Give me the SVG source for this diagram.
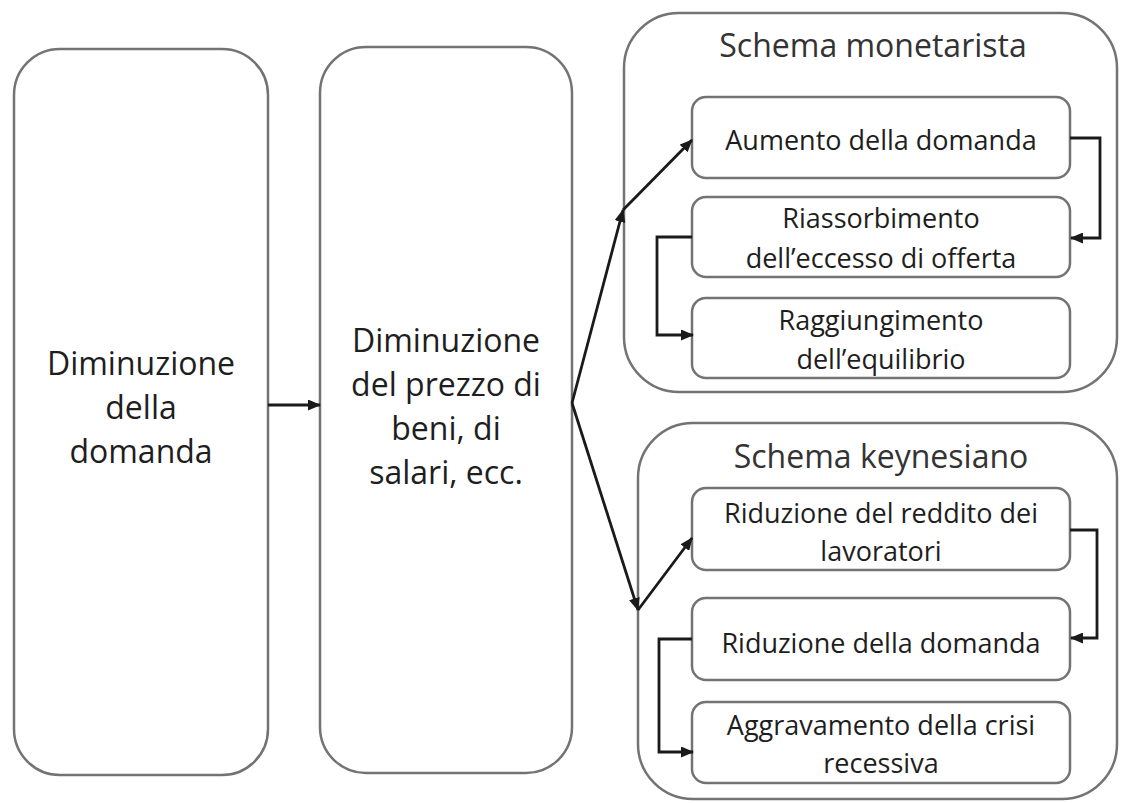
<svg xmlns="http://www.w3.org/2000/svg" width="1121" height="803" viewBox="0 0 1121 803">
<defs>
<marker id="ah" markerWidth="13" markerHeight="11" refX="12" refY="5.5" orient="auto" markerUnits="userSpaceOnUse">
<path d="M0,0 L13,5.5 L0,11 z" fill="#1a1a1a"/>
</marker>
</defs>
<style>
.box{fill:#fff;stroke:#737373;stroke-width:2.5}
.big{font-family:"Open Sans","Liberation Sans",sans-serif;font-size:32px;fill:#1e1e1e;text-anchor:middle;font-weight:500}
.title{font-family:"Open Sans","Liberation Sans",sans-serif;font-size:32px;fill:#333;text-anchor:middle}
.in{font-family:"Open Sans","Liberation Sans",sans-serif;font-size:27px;fill:#1e1e1e;text-anchor:middle;font-weight:500}
.con{fill:none;stroke:#1a1a1a;stroke-width:2.8}
</style>
<rect width="1121" height="803" fill="#fff"/>
<g id="n1">
<rect class="box" x="14" y="49" width="254" height="726" rx="46"/>
<text class="big" x="141" y="375">Diminuzione</text>
<text class="big" x="141" y="419">della</text>
<text class="big" x="141" y="463">domanda</text>
</g>
<g id="n2">
<rect class="box" x="320" y="47" width="252" height="726" rx="46"/>
<text class="big" x="446" y="352">Diminuzione</text>
<text class="big" x="446" y="396">del prezzo di</text>
<text class="big" x="446" y="440">beni, di</text>
<text class="big" x="446" y="484">salari, ecc.</text>
</g>
<g id="monetarista">
<rect class="box" x="624" y="13" width="493" height="379" rx="55"/>
<text class="title" x="873" y="57">Schema monetarista</text>
</g>
<g id="m1">
<rect class="box" x="692" y="97" width="378" height="81" rx="14"/>
<text class="in" x="881" y="150">Aumento della domanda</text>
</g>
<g id="m2">
<rect class="box" x="692" y="197" width="378" height="80" rx="14"/>
<text class="in" x="881" y="228">Riassorbimento</text>
<text class="in" x="881" y="268">dell’eccesso di offerta</text>
</g>
<g id="m3">
<rect class="box" x="692" y="298" width="378" height="80" rx="14"/>
<text class="in" x="881" y="330">Raggiungimento</text>
<text class="in" x="881" y="369">dell’equilibrio</text>
</g>
<g id="keynesiano">
<rect class="box" x="638" y="423" width="479" height="376" rx="55"/>
<text class="title" x="881" y="468">Schema keynesiano</text>
</g>
<g id="k1">
<rect class="box" x="692" y="488" width="378" height="82" rx="14"/>
<text class="in" x="881" y="523">Riduzione del reddito dei</text>
<text class="in" x="881" y="561">lavoratori</text>
</g>
<g id="k2">
<rect class="box" x="692" y="598" width="378" height="82" rx="14"/>
<text class="in" x="881" y="653">Riduzione della domanda</text>
</g>
<g id="k3">
<rect class="box" x="692" y="702" width="378" height="81" rx="14"/>
<text class="in" x="881" y="735">Aggravamento della crisi</text>
<text class="in" x="881" y="773">recessiva</text>
</g>
<g id="connectors">
<path class="con" d="M268,405 L320,405" marker-end="url(#ah)"/>
<path class="con" d="M572,403 L623,210" marker-end="url(#ah)"/>
<path class="con" d="M623,210 L692,140" marker-end="url(#ah)"/>
<path class="con" d="M572,403 L638,610" marker-end="url(#ah)"/>
<path class="con" d="M638,610 L692,538" marker-end="url(#ah)"/>
<path class="con" d="M1070,138 L1100,138 L1100,238 L1071,238" marker-end="url(#ah)"/>
<path class="con" d="M692,237 L657,237 L657,335 L693,335" marker-end="url(#ah)"/>
<path class="con" d="M1070,530 L1097,530 L1097,638 L1071,638" marker-end="url(#ah)"/>
<path class="con" d="M692,639 L659,639 L659,752 L693,752" marker-end="url(#ah)"/>
</g>
</svg>
